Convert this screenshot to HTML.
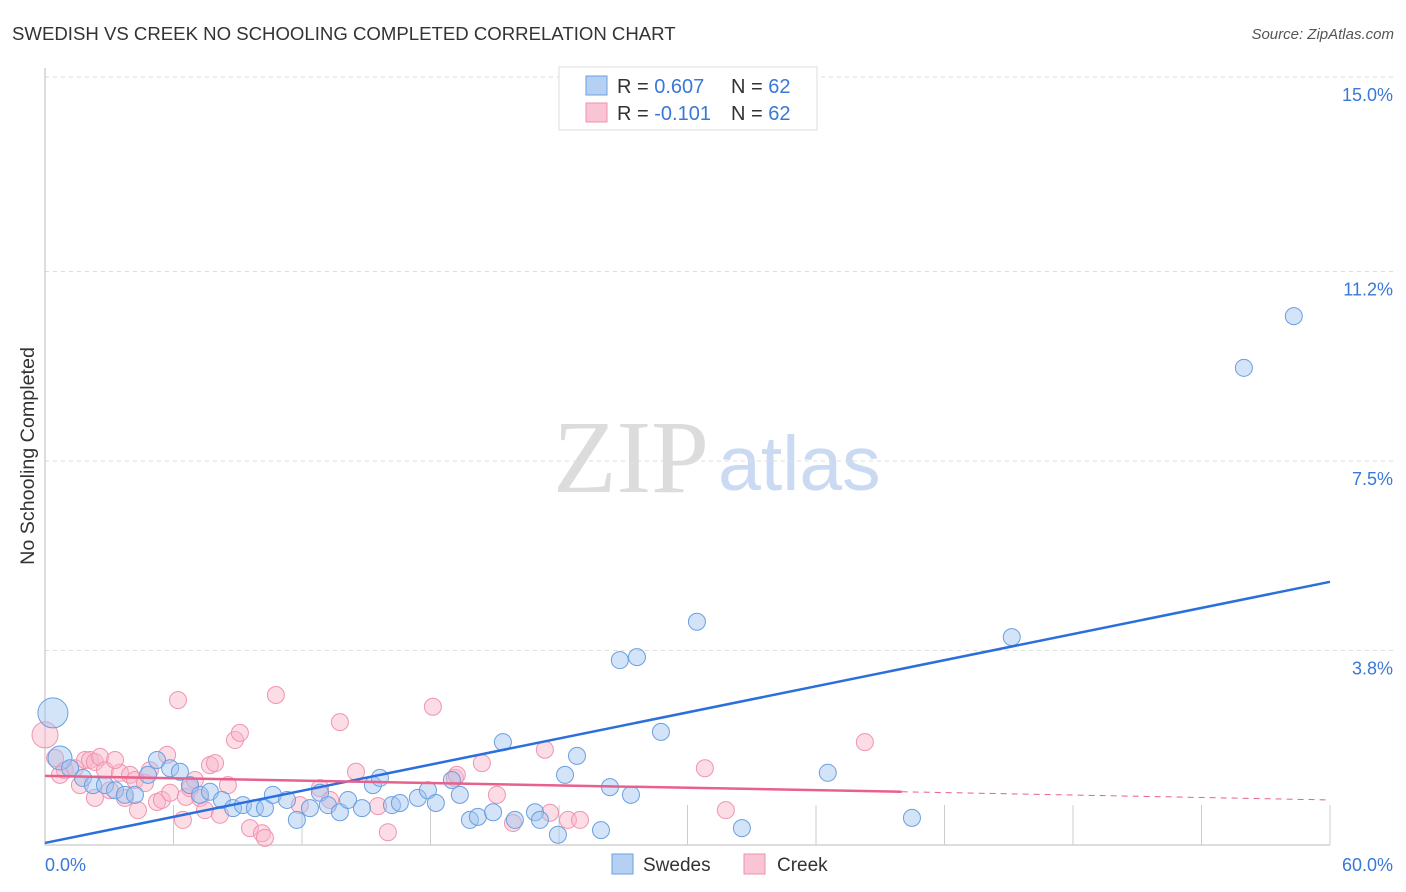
<!DOCTYPE html>
<html><head><meta charset="utf-8"><style>
body{margin:0;background:#fff;font-family:"Liberation Sans",sans-serif;}
svg{display:block}
</style></head><body>
<svg width="1406" height="892" id="c">
<text x="12" y="40" font-size="18.6" fill="#333">SWEDISH VS CREEK NO SCHOOLING COMPLETED CORRELATION CHART</text>
<text x="1394" y="39" font-size="15" font-style="italic" fill="#555" text-anchor="end">Source: ZipAtlas.com</text>
<text x="553" y="492" font-size="104" font-family="Liberation Serif,serif" fill="#dcdcdc">ZIP</text>
<text x="718" y="490" font-size="77" fill="#c9daf2">atlas</text>
<text transform="translate(34,456) rotate(-90)" font-size="19.7" fill="#333" text-anchor="middle">No Schooling Completed</text>
<g id="grid"></g><g id="pts"></g><g id="lines"></g>
<g>
<rect x="559" y="67" width="258" height="63" fill="#fff" stroke="#ddd"/>
<rect x="586" y="76" width="21" height="19" fill="#b5d0f3" stroke="#6a9fe0"/>
<rect x="586" y="103" width="21" height="19" fill="#f9c4d4" stroke="#f08fac"/>
<text x="617" y="93" font-size="20" fill="#333">R = <tspan fill="#3a78d8">0.607</tspan><tspan x="731">N = </tspan><tspan fill="#3a78d8">62</tspan></text>
<text x="617" y="120" font-size="20" fill="#333">R = <tspan fill="#3a78d8">-0.101</tspan><tspan x="731">N = </tspan><tspan fill="#3a78d8">62</tspan></text>
</g>
<g>
<rect x="612" y="854" width="21" height="20" fill="#b5d0f3" stroke="#6a9fe0"/>
<text x="643" y="871" font-size="19" fill="#333">Swedes</text>
<rect x="744" y="854" width="21" height="20" fill="#f9c4d4" stroke="#f08fac"/>
<text x="777" y="871" font-size="19" fill="#333">Creek</text>
</g>
</svg>
<script>
const yTicks=[3.8,7.5,11.2,15.0];
const yTickLabels=["3.8%","7.5%","11.2%","15.0%"];
const xTicks=[6,12,18,24,30,36,42,48,54,60];
const blueX=[0.37,0.70,1.17,1.77,2.24,2.80,3.27,3.73,4.20,4.81,5.23,5.84,6.30,6.77,7.24,7.70,8.26,8.78,9.24,9.80,10.27,10.64,11.30,11.76,12.37,12.84,13.21,13.77,14.15,14.80,15.31,15.64,16.20,16.57,17.41,17.88,18.25,19.00,19.37,19.84,20.21,20.92,21.38,21.94,22.88,23.11,23.95,24.28,24.84,25.96,26.38,26.84,27.36,27.64,28.76,30.44,32.54,36.55,40.48,45.14,55.98,58.31];
const blueY=[2.58,1.70,1.50,1.31,1.17,1.17,1.07,0.98,0.98,1.37,1.66,1.50,1.43,1.17,0.98,1.04,0.88,0.72,0.78,0.72,0.72,0.98,0.88,0.49,0.72,1.02,0.78,0.64,0.88,0.72,1.17,1.31,0.78,0.82,0.92,1.07,0.82,1.27,0.98,0.49,0.55,0.64,2.01,0.49,0.64,0.49,0.20,1.37,1.74,0.29,1.13,3.61,0.98,3.67,2.21,4.36,0.33,1.41,0.53,4.06,9.32,10.33];
const pinkX=[0,0.47,0.93,1.40,1.63,1.87,2.10,2.33,2.57,2.33,2.80,3.03,3.50,3.73,3.97,4.20,4.34,4.67,4.90,5.23,5.46,5.70,5.84,6.21,6.44,6.58,6.77,7.00,7.24,7.47,7.70,7.94,8.17,8.54,8.87,9.10,9.57,10.13,10.27,10.78,11.90,12.84,13.31,13.77,14.52,15.55,16.01,18.11,19.14,20.40,21.10,21.85,23.34,23.58,24.42,24.98,30.81,31.79,38.28,19.23,3.27,0.70];
const pinkY=[2.15,1.70,1.46,1.50,1.17,1.66,1.66,1.62,1.72,0.92,1.46,1.07,1.41,0.92,1.37,1.27,0.68,1.21,1.46,0.84,0.88,1.76,1.02,2.83,0.49,0.94,1.11,1.27,0.92,0.68,1.56,1.60,0.59,1.17,2.05,2.19,0.33,0.23,0.14,2.93,0.78,1.11,0.88,2.40,1.43,0.76,0.25,2.70,1.31,1.60,0.98,0.43,1.86,0.63,0.49,0.49,1.50,0.68,2.01,1.37,1.66,1.37];
const blueTrend=[0.04,5.14];
const pinkTrend=[1.35,1.04,0.88]; // at 0, 40, 60
const NS="http://www.w3.org/2000/svg";
const X=v=>45+v*1285/60, Y=v=>845-v*51.2;
function mk(t,a,p){const e=document.createElementNS(NS,t);for(const k in a)e.setAttribute(k,a[k]);p.appendChild(e);return e;}
const g=document.getElementById('grid');
yTicks.forEach((t,i)=>{
 const l=mk('line',{x1:45,x2:1395,y1:Y(t),y2:Y(t),stroke:'#ddd','stroke-dasharray':'4,4'},g);
 
 
 const tx=mk('text',{x:1393,y:Y(t)+24,'font-size':18,fill:'#3a78d8','text-anchor':'end'},g);
 tx.textContent=yTickLabels[i];
 
 
});
const ax=mk('path',{d:'M45,68V845H1330',stroke:'#bbb',fill:'none'},g);


xTicks.forEach(t=>{
 const l=mk('line',{x1:X(t),x2:X(t),y1:805,y2:845,stroke:'#ccc'},g);
 
 
});
[[45,'start','0.0%'],[1393,'end','60.0%']].forEach(a=>{
 const tx=mk('text',{x:a[0],y:871,'font-size':18,fill:'#3a78d8','text-anchor':a[1]},g);
 tx.textContent=a[2];
 
 
});
const p=document.getElementById('pts');
pinkX.forEach((x,i)=>{
 const c=mk('circle',{cx:X(x),cy:Y(pinkY[i]),r:i==0?13:8.5,fill:'rgba(248,180,200,0.45)',stroke:'#f094b0','stroke-width':1},p);
 
 
});
blueX.forEach((x,i)=>{
 const c=mk('circle',{cx:X(x),cy:Y(blueY[i]),r:i==0?15:(i==1?12:8.5),fill:'rgba(160,196,240,0.45)',stroke:'#6a9fe0','stroke-width':1},p);
 
 
});
const L=document.getElementById('lines');
let b=mk('line',{x1:X(0),y1:Y(blueTrend[0]),x2:X(60),y2:Y(blueTrend[1]),stroke:'#2a6fdb','stroke-width':2.5},L);


let k=mk('line',{x1:X(0),y1:Y(pinkTrend[0]),x2:X(40),y2:Y(pinkTrend[1]),stroke:'#e8608c','stroke-width':2.5},L);


let kd=mk('line',{x1:X(40),y1:Y(pinkTrend[1]),x2:X(60),y2:Y(pinkTrend[2]),stroke:'#e8608c','stroke-width':1,'stroke-dasharray':'6,5'},L);


</script>
</body></html>
